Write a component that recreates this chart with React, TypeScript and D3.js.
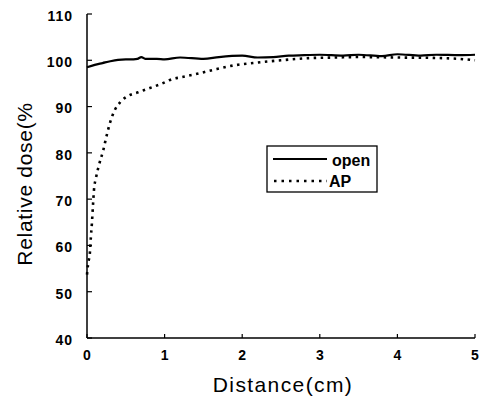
import React from "react";
import * as d3 from "d3";

const xTicks = [0, 1, 2, 3, 4, 5];
const yTicks = [40, 50, 60, 70, 80, 90, 100, 110];

const openX = [0, 0.1, 0.2, 0.3, 0.4, 0.5, 0.6, 0.65, 0.7, 0.75, 0.9, 1.0, 1.2, 1.5, 1.7, 2.0, 2.2, 2.4, 2.6, 2.8, 3.0, 3.3, 3.5, 3.8, 4.0, 4.3, 4.5, 4.8, 5.0];
const openY = [98.5, 99.0, 99.4, 99.8, 100.1, 100.2, 100.2, 100.3, 100.7, 100.3, 100.3, 100.2, 100.6, 100.3, 100.7, 101.0, 100.6, 100.7, 101.0, 101.1, 101.2, 101.0, 101.2, 100.9, 101.3, 101.0, 101.2, 101.1, 101.2];

const apX = [0, 0.013, 0.04, 0.05, 0.064, 0.077, 0.09, 0.116, 0.155, 0.21, 0.25, 0.3, 0.36, 0.43, 0.53, 0.66, 0.81, 0.97, 1.11, 1.2, 1.4, 1.62, 1.93, 2.14, 2.5, 2.9, 3.2, 3.5, 4.0, 4.5, 4.8, 5.0];
const apY = [53.7, 55.8, 59, 61.8, 65, 68.7, 72, 74.6, 77.4, 80.6, 83.5, 86.7, 89.3, 91, 92.3, 93.1, 94, 95, 96, 96.3, 97.0, 97.9, 99.0, 99.4, 100.0, 100.5, 100.6, 100.7, 100.6, 100.5, 100.3, 100.0];

const seriesNames = ["open", "AP"];

export default function App() {
  const W = 481, H = 399;
  const x = d3.scaleLinear().domain([0, 5]).range([87, 475]);
  const y = d3.scaleLinear().domain([40, 110]).range([338, 14]);
  const line = d3.line<[number, number]>().x(d => x(d[0])).y(d => y(d[1])).curve(d3.curveMonotoneX);
  const openPts = openX.map((v, i) => [v, openY[i]] as [number, number]);
  const apPts = apX.map((v, i) => [v, apY[i]] as [number, number]);
  const font = "'Liberation Sans', Arial, sans-serif";
  return (
    <svg width={W} height={H} style={{ position: "absolute", left: 0, top: 0, background: "#fff" }} fontFamily={font}>
      <rect x={0} y={0} width={W} height={H} fill="#fff" />
      <line x1={x(0)} x2={x(0)} y1={y(110)} y2={y(40)} stroke="#000" strokeWidth={1.5} />
      <line x1={x(0)} x2={x(5)} y1={y(40)} y2={y(40)} stroke="#000" strokeWidth={1.5} />
      {yTicks.map(t => (
        <g key={"y" + t}>
          <line x1={x(0)} x2={x(0) + 5} y1={y(t)} y2={y(t)} stroke="#000" strokeWidth={1.2} />
          <text x={73} y={y(t) + 2} dy="0.35em" textAnchor="end" fontSize={14} fontWeight="bold" letterSpacing={1}>{t}</text>
        </g>
      ))}
      {xTicks.map(t => (
        <g key={"x" + t}>
          <line x1={x(t)} x2={x(t)} y1={y(40)} y2={y(40) - 4} stroke="#000" strokeWidth={1.2} />
          <text x={x(t)} y={360} textAnchor="middle" fontSize={14} fontWeight="bold">{t}</text>
        </g>
      ))}
      <path d={line(openPts) || ""} fill="none" stroke="#000" strokeWidth={2.2} />
      <path d={line(apPts) || ""} fill="none" stroke="#000" strokeWidth={2.6} strokeDasharray="2.5,4.5" />
      <text x={283} y={392} textAnchor="middle" fontSize={21} letterSpacing={1.4}>Distance(cm)</text>
      <text transform={`translate(32,184) rotate(-90)`} textAnchor="middle" fontSize={21} letterSpacing={0.7}>Relative dose(%</text>
      <rect x={267} y={146} width={110} height={46} fill="#fff" stroke="#000" strokeWidth={1.3} />
      <line x1={273} x2={327} y1={159} y2={159} stroke="#000" strokeWidth={2.2} />
      <text x={332} y={160} dy="0.35em" fontSize={16} fontWeight="bold">{seriesNames[0]}</text>
      <line x1={274} x2={327} y1={181} y2={181} stroke="#000" strokeWidth={2.6} strokeDasharray="2.5,5" />
      <text x={329} y={181} dy="0.35em" fontSize={16} fontWeight="bold">{seriesNames[1]}</text>
    </svg>
  );
}
